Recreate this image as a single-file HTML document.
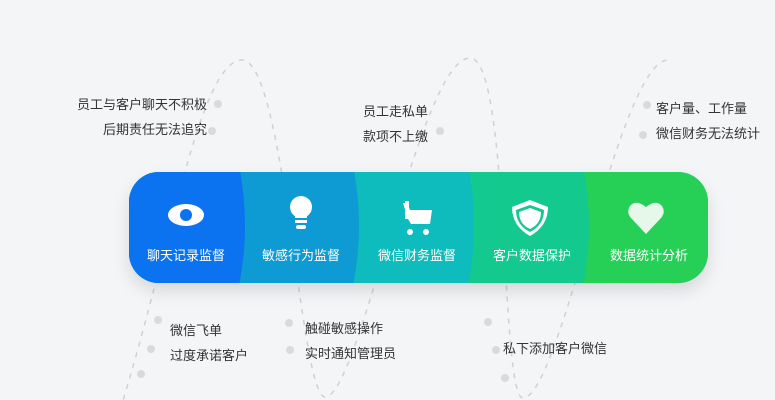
<!DOCTYPE html>
<html><head><meta charset="utf-8"><style>
html,body{margin:0;padding:0;}
body{width:775px;height:400px;background:#f4f5f7;position:relative;overflow:hidden;font-family:"Liberation Sans","Noto Sans CJK SC",sans-serif;}
.t{position:absolute;font-size:13px;color:#333;line-height:25px;white-space:nowrap;}
.r{text-align:right;}
</style></head><body>
<svg width="775" height="400" style="position:absolute;left:0;top:0">
<defs>
<filter id="sh" x="-10%" y="-30%" width="120%" height="170%"><feDropShadow dx="0" dy="8" stdDeviation="8" flood-color="#000" flood-opacity="0.12"/></filter>
<clipPath id="cp"><rect x="129" y="172" width="579" height="111" rx="30"/></clipPath>
</defs>
<g fill="none" stroke="#cfd1d5" stroke-width="1.5" stroke-dasharray="5 6">
<path d="M120 410 C170 250, 200 60, 242 60 C285 60, 300 397, 325 397 C360 397, 420 58, 470 58 C510 58, 500 398, 523 398 C560 398, 620 60, 668 60"/>
</g>
<g fill="#d9dadd">
<circle cx="218" cy="104" r="4"/><circle cx="212" cy="131" r="4"/>
<circle cx="158" cy="320" r="4"/><circle cx="151" cy="349" r="4"/><circle cx="141" cy="374" r="4"/>
<circle cx="289" cy="323" r="4"/><circle cx="290" cy="350" r="4"/>
<circle cx="440" cy="131" r="4"/><circle cx="647" cy="105" r="4"/><circle cx="643" cy="135" r="4"/>
<circle cx="488" cy="322" r="4"/><circle cx="496" cy="350" r="4"/><circle cx="505" cy="378" r="4"/>
</g>
<g filter="url(#sh)"><rect x="129" y="172" width="579" height="111" rx="30" fill="#1a9ad0"/></g>
<g clip-path="url(#cp)">
<rect x="120" y="160" width="600" height="130" fill="#26d057"/>
<path d="M120 160 L582 160 Q596 227 582 290 L120 290Z" fill="#13c98d"/>
<path d="M120 160 L467 160 Q481 227 467 290 L120 290Z" fill="#0fbcbd"/>
<path d="M120 160 L352 160 Q366 227 352 290 L120 290Z" fill="#0e9ad3"/>
<path d="M120 160 L238 160 Q252 227 238 290 L120 290Z" fill="#0b72f0"/>
</g>
<g fill="#fff">
<ellipse cx="186" cy="215" rx="18" ry="11"/><circle cx="186" cy="215" r="6" fill="#0b72f0"/>
<circle cx="301" cy="207" r="11"/><rect x="295" y="214" width="12" height="4"/><rect x="295" y="220" width="12" height="3"/><rect x="296" y="225" width="10" height="4" rx="2"/>
<path d="M403 203 L407 203 L410 210 L432 210 L430 224 L411 224 L408 219 Z"/><rect x="405" y="201" width="4" height="18"/><circle cx="410" cy="232" r="3"/><circle cx="426" cy="232" r="3"/>
<path d="M530 200 L548 207 Q548 226 530 236 Q512 226 512 207 Z"/><path d="M530 205 L544 210 Q544 225 530 232 Q516 225 516 210 Z" fill="#13c98d"/><path d="M530 208 L541 212 Q541 224 530 229 Q519 224 519 212Z"/>
<path d="M646 234 L631 218 Q626 212 630 206 Q636 199 646 207 Q656 199 662 206 Q666 212 661 218 Z" fill="#e6f8e9"/>
</g>
<g fill="#fff" font-size="13" text-anchor="middle" font-family="Liberation Sans, Noto Sans CJK SC, sans-serif">
<text x="186" y="260">聊天记录监督</text><text x="301" y="260">敏感行为监督</text><text x="417" y="260">微信财务监督</text><text x="532" y="260">客户数据保护</text><text x="649" y="260">数据统计分析</text>
</g>
</svg>
<div class="t r" style="right:568px;top:92px">员工与客户聊天不积极<br>后期责任无法追究</div>
<div class="t r" style="right:347px;top:99px">员工走私单<br>款项不上缴</div>
<div class="t" style="left:656px;top:96px">客户量、工作量<br>微信财务无法统计</div>
<div class="t" style="left:170px;top:318px">微信飞单<br>过度承诺客户</div>
<div class="t" style="left:305px;top:316px">触碰敏感操作<br>实时通知管理员</div>
<div class="t" style="left:503px;top:336px">私下添加客户微信</div>
</body></html>
